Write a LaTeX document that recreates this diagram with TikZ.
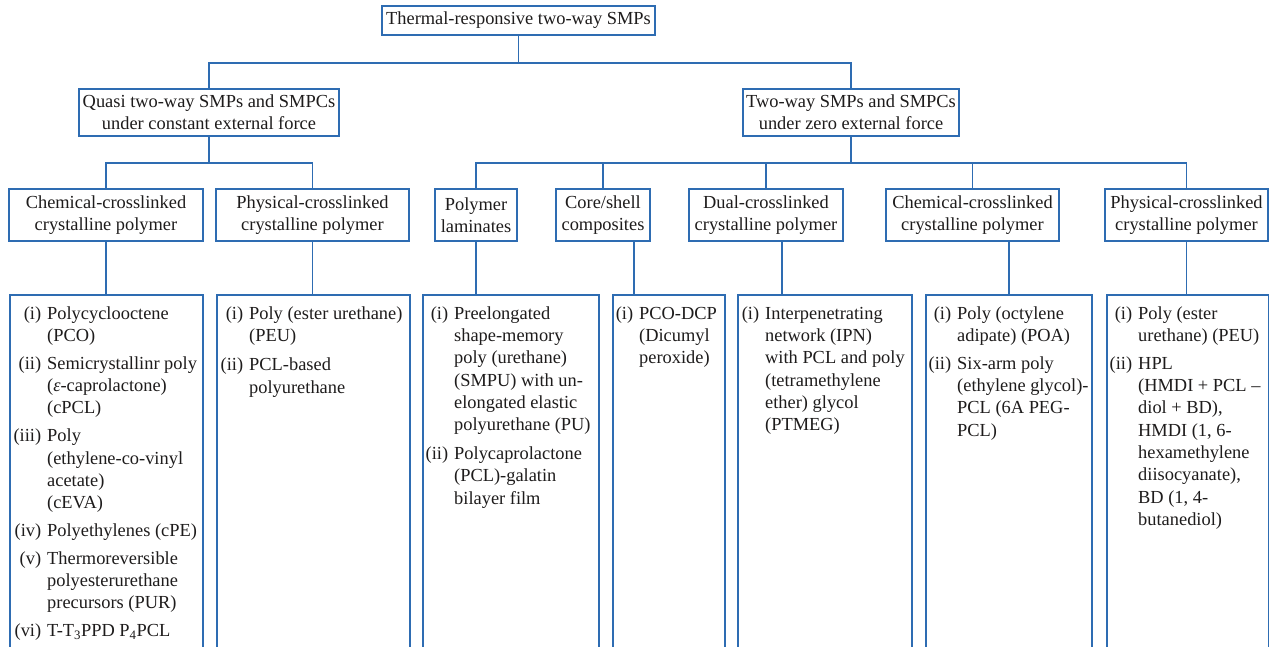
\documentclass[tikz,border=0pt]{standalone}
\usepackage{fontspec}
\setmainfont{Liberation Serif}
\usepackage{array}
\newcolumntype{R}{>{\raggedleft\arraybackslash}p{30pt}}
\definecolor{boxblue}{RGB}{46,108,178}
\definecolor{ink}{RGB}{30,28,28}
\tikzset{
  box/.style={draw=boxblue, line width=1.5pt, inner sep=0pt, align=center, text=ink},
  link/.style={draw=boxblue, line width=1.5pt},
  listtext/.style={inner sep=0pt, anchor=north west, text=ink},
}
\begin{document}
\begin{tikzpicture}[x=1pt, y=-1pt, font=\fontsize{18.4}{22.3}\selectfont]
\useasboundingbox (0,0) rectangle (1269,646);
\fill[white] (0,0) rectangle (1269,646);
\clip (0,0) rectangle (1269,646);

% top
\node[box, minimum width=273pt, minimum height=29pt] (title) at (518.5,20.5) {Thermal-responsive two-way SMPs};

% second level
\node[box, minimum width=260pt, minimum height=47pt] (Q) at (209,112.5) {Quasi two-way SMPs and SMPCs\\under constant external force};
\node[box, minimum width=216pt, minimum height=47pt] (T) at (851,112.5) {Two-way SMPs and SMPCs\\under zero external force};

% third level
\node[box, minimum width=194pt, minimum height=52pt] (C1) at (106,215) {Chemical-crosslinked\\crystalline polymer};
\node[box, minimum width=193pt, minimum height=52pt] (C2) at (312.5,215) {Physical-crosslinked\\crystalline polymer};
\node[box, minimum width=82pt, minimum height=52pt] (C3) at (476,215) {Polymer\\laminates};
\node[box, minimum width=94pt, minimum height=52pt] (C4) at (603,215) {Core/shell\\composites};
\node[box, minimum width=154pt, minimum height=52pt] (C5) at (766,215) {Dual-crosslinked\\crystalline polymer};
\node[box, minimum width=173pt, minimum height=52pt] (C6) at (972.5,215) {Chemical-crosslinked\\crystalline polymer};
\node[box, minimum width=163pt, minimum height=52pt] (C7) at (1186.5,215) {Physical-crosslinked\\crystalline polymer};

% list boxes (open at the bottom of the picture)
\node[box, anchor=north west, minimum width=193pt, minimum height=380pt] (L1) at (9,294) {};
\node[box, anchor=north west, minimum width=193pt, minimum height=380pt] (L2) at (216,294) {};
\node[box, anchor=north west, minimum width=176pt, minimum height=380pt] (L3) at (422,294) {};
\node[box, anchor=north west, minimum width=112pt, minimum height=380pt] (L4) at (612,294) {};
\node[box, anchor=north west, minimum width=174pt, minimum height=380pt] (L5) at (737,294) {};
\node[box, anchor=north west, minimum width=166pt, minimum height=380pt] (L6) at (925,294) {};
\node[box, anchor=north west, minimum width=162pt, minimum height=380pt] (L7) at (1106,294) {};

% list texts
\node[listtext] (T1) at (11,303.4) {\begin{tabular}{@{}R@{\hspace{6pt}}l@{}}
(i) & Polycyclooctene\\ & (PCO)\\[5.5pt]
(ii) & Semicrystallinr poly\\ & (\textit{ε}-caprolactone)\\ & (cPCL)\\[5.5pt]
(iii) & Poly\\ & (ethylene-co-vinyl\\ & acetate)\\ & (cEVA)\\[5.5pt]
(iv) & Polyethylenes (cPE)\\[5.5pt]
(v) & Thermoreversible\\ & polyesterurethane\\ & precursors (PUR)\\[5.5pt]
(vi) & T-T\textsubscript{3}PPD P\textsubscript{4}PCL
\end{tabular}};

\node[listtext] (T2) at (213,303.4) {\begin{tabular}{@{}R@{\hspace{6pt}}l@{}}
(i) & Poly (ester urethane)\\ & (PEU)\\[7pt]
(ii) & PCL-based\\ & polyurethane
\end{tabular}};

\node[listtext] (T3) at (418,303.4) {\begin{tabular}{@{}R@{\hspace{6pt}}l@{}}
(i) & Preelongated\\ & shape-memory\\ & poly (urethane)\\ & (SMPU) with un-\\ & elongated elastic\\ & polyurethane (PU)\\[6.5pt]
(ii) & Polycaprolactone\\ & (PCL)-galatin\\ & bilayer film
\end{tabular}};

\node[listtext] (T4) at (603,303.4) {\begin{tabular}{@{}R@{\hspace{6pt}}l@{}}
(i) & PCO-DCP\\ & (Dicumyl\\ & peroxide)
\end{tabular}};

\node[listtext] (T5) at (729,303.4) {\begin{tabular}{@{}R@{\hspace{6pt}}l@{}}
(i) & Interpenetrating\\ & network (IPN)\\ & with PCL and poly\\ & (tetramethylene\\ & ether) glycol\\ & (PTMEG)
\end{tabular}};

\node[listtext] (T6) at (921,303.4) {\begin{tabular}{@{}R@{\hspace{6pt}}l@{}}
(i) & Poly (octylene\\ & adipate) (POA)\\[5.5pt]
(ii) & Six-arm poly\\ & (ethylene glycol)-\\ & PCL (6A PEG-\\ & PCL)
\end{tabular}};

\node[listtext] (T7) at (1102,303.4) {\begin{tabular}{@{}R@{\hspace{6pt}}l@{}}
(i) & Poly (ester\\ & urethane) (PEU)\\[5.5pt]
(ii) & HPL\\ & (HMDI + PCL –\\ & diol + BD),\\ & HMDI (1, 6-\\ & hexamethylene\\ & diisocyanate),\\ & BD (1, 4-\\ & butanediol)
\end{tabular}};

% connectors
\draw[link] (title.south) -- ++(0,27) -| (Q.north);
\draw[link] (title.south) -- ++(0,27) -| (T.north);
\draw[link] (Q.south) -- ++(0,26) -| (C1.north);
\draw[link] (Q.south) -- ++(0,26) -| (C2.north);
\foreach \c in {C3,C4,C5,C6,C7} {
  \draw[link] (T.south) -- ++(0,26) -| (\c.north);
}
\draw[link] (C1.south) -- (C1.south |- L1.north);
\draw[link] (C2.south) -- (C2.south |- L2.north);
\draw[link] (C3.south) -- (C3.south |- L3.north);
\draw[link] ([xshift=31pt]C4.south) -- ([xshift=31pt]C4.south |- L4.north);
\draw[link] ([xshift=16pt]C5.south) -- ([xshift=16pt]C5.south |- L5.north);
\draw[link] (L6.north |- C6.south) -- (L6.north);
\draw[link] (C7.south) -- (C7.south |- L7.north);
\end{tikzpicture}
\end{document}
